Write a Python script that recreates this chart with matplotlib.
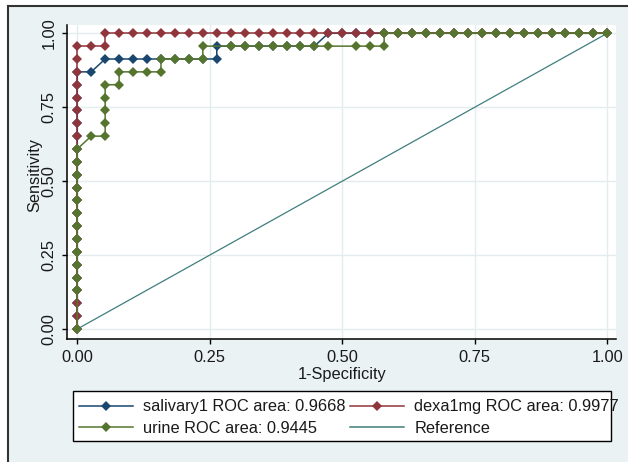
import matplotlib
matplotlib.use("Agg")
import matplotlib.pyplot as plt
from matplotlib.lines import Line2D
from matplotlib.patches import Rectangle

plt.rcParams['font.family'] = ['Liberation Sans', 'DejaVu Sans']

# number of negatives / positives (step sizes)
N_NEG = 38
N_POS = 23

# salivary1 ROC points (false positives, true positives)
sal_fp = [0, 0, 0, 0, 0, 0, 0, 0, 0, 0, 0, 0, 0, 0, 0, 0, 0, 0, 0, 0, 0,
          1, 2, 3, 4, 5, 6, 7, 8, 9, 10, 10, 11, 12, 13, 14, 15, 16, 17,
          18, 19, 20, 21, 22, 23, 24, 25, 26, 27, 28, 29, 30, 31, 32, 33,
          34, 35, 36, 37, 38]
sal_tp = [0, 1, 2, 3, 4, 5, 6, 7, 8, 9, 10, 11, 12, 13, 14, 15, 16, 17, 18, 19, 20,
          20, 21, 21, 21, 21, 21, 21, 21, 21, 21, 22, 22, 22, 22, 22, 22, 22, 22,
          23, 23, 23, 23, 23, 23, 23, 23, 23, 23, 23, 23, 23, 23, 23, 23,
          23, 23, 23, 23, 23]

# dexa1mg ROC points
dex_fp = [0, 0, 0, 0, 0, 0, 0, 0, 0, 0, 0, 0, 0, 0, 0, 0, 0, 0, 0, 0, 0, 0, 0,
          1, 2, 2, 3, 4, 5, 6, 7, 8, 9, 10, 11, 12, 13, 14, 15, 16, 17, 18,
          19, 20, 21, 22, 23, 24, 25, 26, 27, 28, 29, 30, 31, 32, 33, 34,
          35, 36, 37, 38]
dex_tp = [0, 1, 2, 3, 4, 5, 6, 7, 8, 9, 10, 11, 12, 13, 14, 15, 16, 17, 18, 19, 20, 21, 22,
          22, 22, 23, 23, 23, 23, 23, 23, 23, 23, 23, 23, 23, 23, 23, 23, 23, 23, 23,
          23, 23, 23, 23, 23, 23, 23, 23, 23, 23, 23, 23, 23, 23, 23, 23,
          23, 23, 23, 23]

# urine ROC points
uri_fp = [0, 0, 0, 0, 0, 0, 0, 0, 0, 0, 0, 0, 0,
          1, 2, 2, 2, 2, 2, 3, 3, 4, 5, 6, 6, 7, 8, 9, 9,
          11, 12, 13, 14, 15, 16, 17, 18, 20, 21, 22, 22,
          23, 24, 25, 26, 27, 28, 29, 30, 31, 32, 33, 34, 35, 36, 37, 38]
uri_tp = [0, 3, 4, 5, 6, 7, 8, 9, 10, 11, 12, 13, 14,
          15, 15, 16, 17, 18, 19, 19, 20, 20, 20, 20, 21, 21, 21, 21, 22,
          22, 22, 22, 22, 22, 22, 22, 22, 22, 22, 22, 23,
          23, 23, 23, 23, 23, 23, 23, 23, 23, 23, 23, 23, 23, 23, 23, 23]

labels = ['salivary1 ROC area: 0.9668', 'dexa1mg ROC area: 0.9977',
          'urine ROC area: 0.9445', 'Reference']
colors = ['#1a476f', '#90353b', '#55752f']
ref_color = '#3f7f7c'
ticks = [0, 0.25, 0.5, 0.75, 1]
tick_labels = ['0.00', '0.25', '0.50', '0.75', '1.00']

W, H = 628, 462
BG = '#eaf2f3'
FS = 11.8
MS = 5.0


def fx(px):
    return px / W


def fy(py):
    return 1 - py / H


fig = plt.figure(figsize=(W / 100, H / 100), dpi=100)
fig.patch.set_facecolor('white')

# graph region background with the dark border on left/top
fig.patches.append(Rectangle((fx(8), 0), 1 - fx(8), fy(6), transform=fig.transFigure,
                             facecolor=BG, edgecolor='none', zorder=-10))
fig.lines.append(Line2D([fx(8), fx(8)], [0, fy(6)], transform=fig.transFigure,
                        color='#333333', lw=1.5))
fig.lines.append(Line2D([fx(8), 1], [fy(6), fy(6)], transform=fig.transFigure,
                        color='#333333', lw=1.5))

ax = fig.add_axes([fx(67), fy(339), (616 - 67) / W, (339 - 25) / H])
ax.set_facecolor('white')

ax.plot([0, 1], [0, 1], color=ref_color, lw=0.9, zorder=2)
series = [(sal_fp, sal_tp), (dex_fp, dex_tp), (uri_fp, uri_tp)]
for (fp, tp), c in zip(series, colors):
    xs = [v / N_NEG for v in fp]
    ys = [v / N_POS for v in tp]
    ax.plot(xs, ys, color=c, lw=1.1, marker='D', markersize=MS,
            markeredgewidth=0, zorder=3)

ax.set_xlim(-0.0194, 1.0164)
ax.set_ylim(-0.0338, 1.028)
ax.set_xticks(ticks)
ax.set_xticklabels(tick_labels)
ax.set_yticks(ticks)
ax.set_yticklabels(tick_labels)
ax.grid(True, color='#e3ecee', lw=1.0, zorder=0)
ax.set_axisbelow(True)
for s in ['top', 'right']:
    ax.spines[s].set_visible(False)
for s in ['left', 'bottom']:
    ax.spines[s].set_color('black')
    ax.spines[s].set_linewidth(1.1)
ax.tick_params(direction='out', length=3.6, width=1.0, color='black',
               labelsize=FS, labelcolor='#1a1a1a', pad=4)
ax.tick_params(axis='y', labelrotation=90)
for lbl in ax.get_yticklabels():
    lbl.set_va('center')

fig.text(fx(35), fy(175), 'Sensitivity', rotation=90, ha='center', va='center',
         fontsize=FS, color='#1a1a1a')
fig.text(fx(342), fy(374), '1-Specificity', ha='center', va='center',
         fontsize=FS, color='#1a1a1a')

# legend
fig.patches.append(Rectangle((fx(73.3), fy(440.7)), (611 - 73.3) / W, (440.7 - 390.7) / H,
                             transform=fig.transFigure, facecolor='white',
                             edgecolor='black', lw=1.0, zorder=1))
handles = [Line2D([], [], color=c, lw=1.1, marker='D', markersize=MS, markeredgewidth=0)
           for c in colors]
handles.append(Line2D([], [], color=ref_color, lw=1.1))
order = [0, 2, 1, 3]
fig.legend([handles[i] for i in order], [labels[i] for i in order],
           loc='upper left', bbox_to_anchor=(fx(73.3), fy(393.5)),
           bbox_transform=fig.transFigure, ncol=2, frameon=False,
           borderaxespad=0, borderpad=0.35, handlelength=3.3, handletextpad=0.6,
           columnspacing=0.3, labelspacing=0.4, fontsize=FS, labelcolor='#1a1a1a')

fig.savefig('out.png', dpi=100)
